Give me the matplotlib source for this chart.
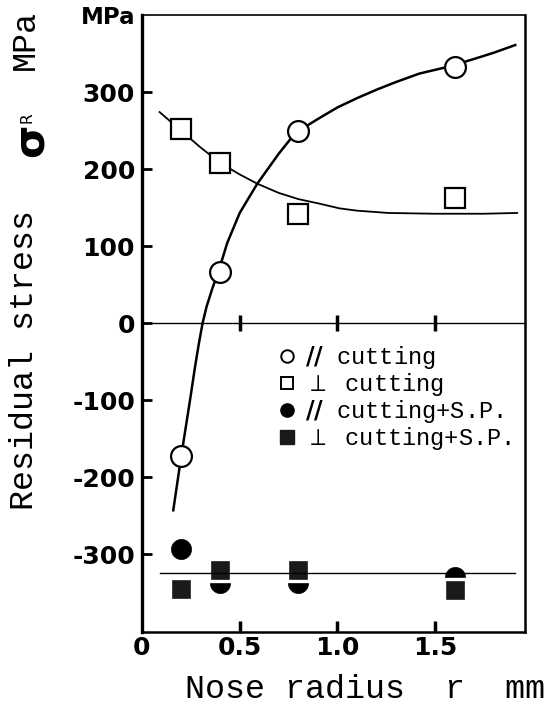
import matplotlib
matplotlib.use("Agg")
import matplotlib.pyplot as plt
from matplotlib.lines import Line2D

# ---------------- data ----------------
nose_radius = [0.2, 0.4, 0.8, 1.6]
par_cutting = [-172, 67, 250, 333]          # open circles  (// cutting)
perp_cutting = [252, 208, 142, 162]         # open squares  (perp cutting)
par_cutting_sp = [-293, -338, -338, -329]   # filled circles (// cutting + S.P.)
perp_cutting_sp = [-345, -321, -321, -347]  # filled squares (perp cutting + S.P.)

# hand-drawn trend curves
par_curve_x = [0.16, 0.20, 0.25, 0.27, 0.29, 0.31, 0.33, 0.36, 0.395, 0.436, 0.50,
               0.59, 0.70, 0.785, 0.90, 1.00, 1.10, 1.20, 1.30, 1.42, 1.57, 1.70,
               1.80, 1.91]
par_curve_y = [-243, -174, -93, -59, -28, 0, 21, 45, 70, 104, 143,
               181, 220, 247, 265, 280, 292, 303, 313, 324, 333, 343,
               351, 361]
perp_curve_x = [0.09, 0.19, 0.30, 0.40, 0.50, 0.59, 0.70, 0.80, 0.91, 1.01,
                1.10, 1.26, 1.50, 1.75, 1.92]
perp_curve_y = [274, 252, 228, 208, 193, 181, 169, 161, 155, 149,
                146, 143, 142, 142, 143]
sp_level_x = [0.09, 1.91]
sp_level_y = [-324, -324]

x_ticks = [0, 0.5, 1.0, 1.5]
x_tick_labels = ["0", "0.5", "1.0", "1.5"]
zero_line_ticks = [0.5, 1.0, 1.5]
y_ticks = [-300, -200, -100, 0, 100, 200, 300, 400]
y_tick_labels = ["-300", "-200", "-100", "0", "100", "200", "300", "MPa"]

legend_labels = [r"$\mathbf{//}$ cutting",
                 r"$\perp$ cutting",
                 r"$\mathbf{//}$ cutting+S.P.",
                 r"$\perp$ cutting+S.P."]

# ---------------- figure ----------------
W, H = 554, 704
fig = plt.figure(figsize=(W / 100, H / 100), dpi=100)
ax = fig.add_axes([142 / W, 72 / H, 383 / W, 617 / H])
ax.set_xlim(0, 1.96)
ax.set_ylim(-401, 400)

mono = "Liberation Mono"
tickfont = dict(family="DejaVu Sans", weight="bold", size=18)

# curves
ax.plot(par_curve_x, par_curve_y, color="black", lw=1.8, zorder=2,
        solid_joinstyle="round")
ax.plot(perp_curve_x, perp_curve_y, color="black", lw=1.3, zorder=2,
        solid_joinstyle="round")
ax.axhline(0, color="black", lw=1.0, zorder=1)
ax.plot(sp_level_x, sp_level_y, color="black", lw=1.0, zorder=5)

# markers
ax.plot(nose_radius, par_cutting, ls="none", marker="o", ms=15, mfc="white",
        mec="black", mew=1.6, zorder=3)
ax.plot(nose_radius, perp_cutting, ls="none", marker="s", ms=15, mfc="white",
        mec="black", mew=1.6, zorder=3)
ax.plot(nose_radius, par_cutting_sp, ls="none", marker="o", ms=14.5, mfc="black",
        mec="black", mew=0.5, zorder=3)
ax.plot(nose_radius, perp_cutting_sp, ls="none", marker="s", ms=16.5, mfc="#1a1a1a",
        mec="white", mew=2.4, zorder=4)

# ticks
ax.set_xticks(x_ticks)
ax.set_xticklabels(x_tick_labels, fontdict=tickfont)
ax.set_yticks(y_ticks)
ylabels = ax.set_yticklabels(y_tick_labels, fontdict=tickfont)
ylabels[-1].set_fontsize(16.5)
ax.tick_params(axis="x", direction="in", length=8, width=2.5, pad=3)
ax.tick_params(axis="y", direction="in", length=7, width=2.0, pad=5)
ax.yaxis.get_major_ticks()[-1].tick1line.set_visible(False)
ax.xaxis.get_major_ticks()[0].tick1line.set_visible(False)

# tick marks on the zero line
sec = ax.secondary_xaxis(0, transform=ax.transData)
sec.set_xticks(zero_line_ticks)
sec.tick_params(direction="inout", length=11, width=2.5, labelbottom=False,
                labeltop=False)
for s in sec.spines.values():
    s.set_visible(False)

# spines
ax.spines["left"].set_linewidth(2.4)
ax.spines["bottom"].set_linewidth(1.8)
ax.spines["right"].set_linewidth(1.8)
ax.spines["top"].set_linewidth(1.2)

# axis labels (typewriter style)
fig.text(25 / W, 1 - 360 / H, "Residual stress", rotation=90, family=mono,
         fontsize=24, ha="center", va="center")
fig.text(31 / W, 1 - 140 / H, "σ", rotation=90, family="DejaVu Sans",
         weight="bold", fontsize=31, ha="center", va="center")
fig.text(27 / W, 1 - 118 / H, "R", rotation=90, family="DejaVu Sans",
         fontsize=11, ha="center", va="center")
fig.text(25 / W, 1 - 40 / H, "MPa", rotation=90, family=mono,
         fontsize=24, ha="center", va="center")
fig.text(185 / W, 6 / H, "Nose radius  r  mm", family=mono, fontsize=24,
         ha="left", va="baseline")

# legend
handles = [
    Line2D([], [], ls="none", marker="o", ms=9, mfc="white", mec="black", mew=1.4),
    Line2D([], [], ls="none", marker="s", ms=9, mfc="white", mec="black", mew=1.4),
    Line2D([], [], ls="none", marker="o", ms=9.5, mfc="black", mec="black"),
    Line2D([], [], ls="none", marker="s", ms=9.5, mfc="#1a1a1a", mec="#1a1a1a"),
]
leg = ax.legend(handles, legend_labels, loc="upper left",
                bbox_to_anchor=(277 / W, 1 - 344 / H), bbox_transform=fig.transFigure,
                frameon=False, prop=dict(family=mono, size=17),
                handlelength=0.85, handletextpad=0.35, labelspacing=0.0,
                borderpad=0, borderaxespad=0)

fig.savefig("out.png", dpi=100, facecolor="white")
